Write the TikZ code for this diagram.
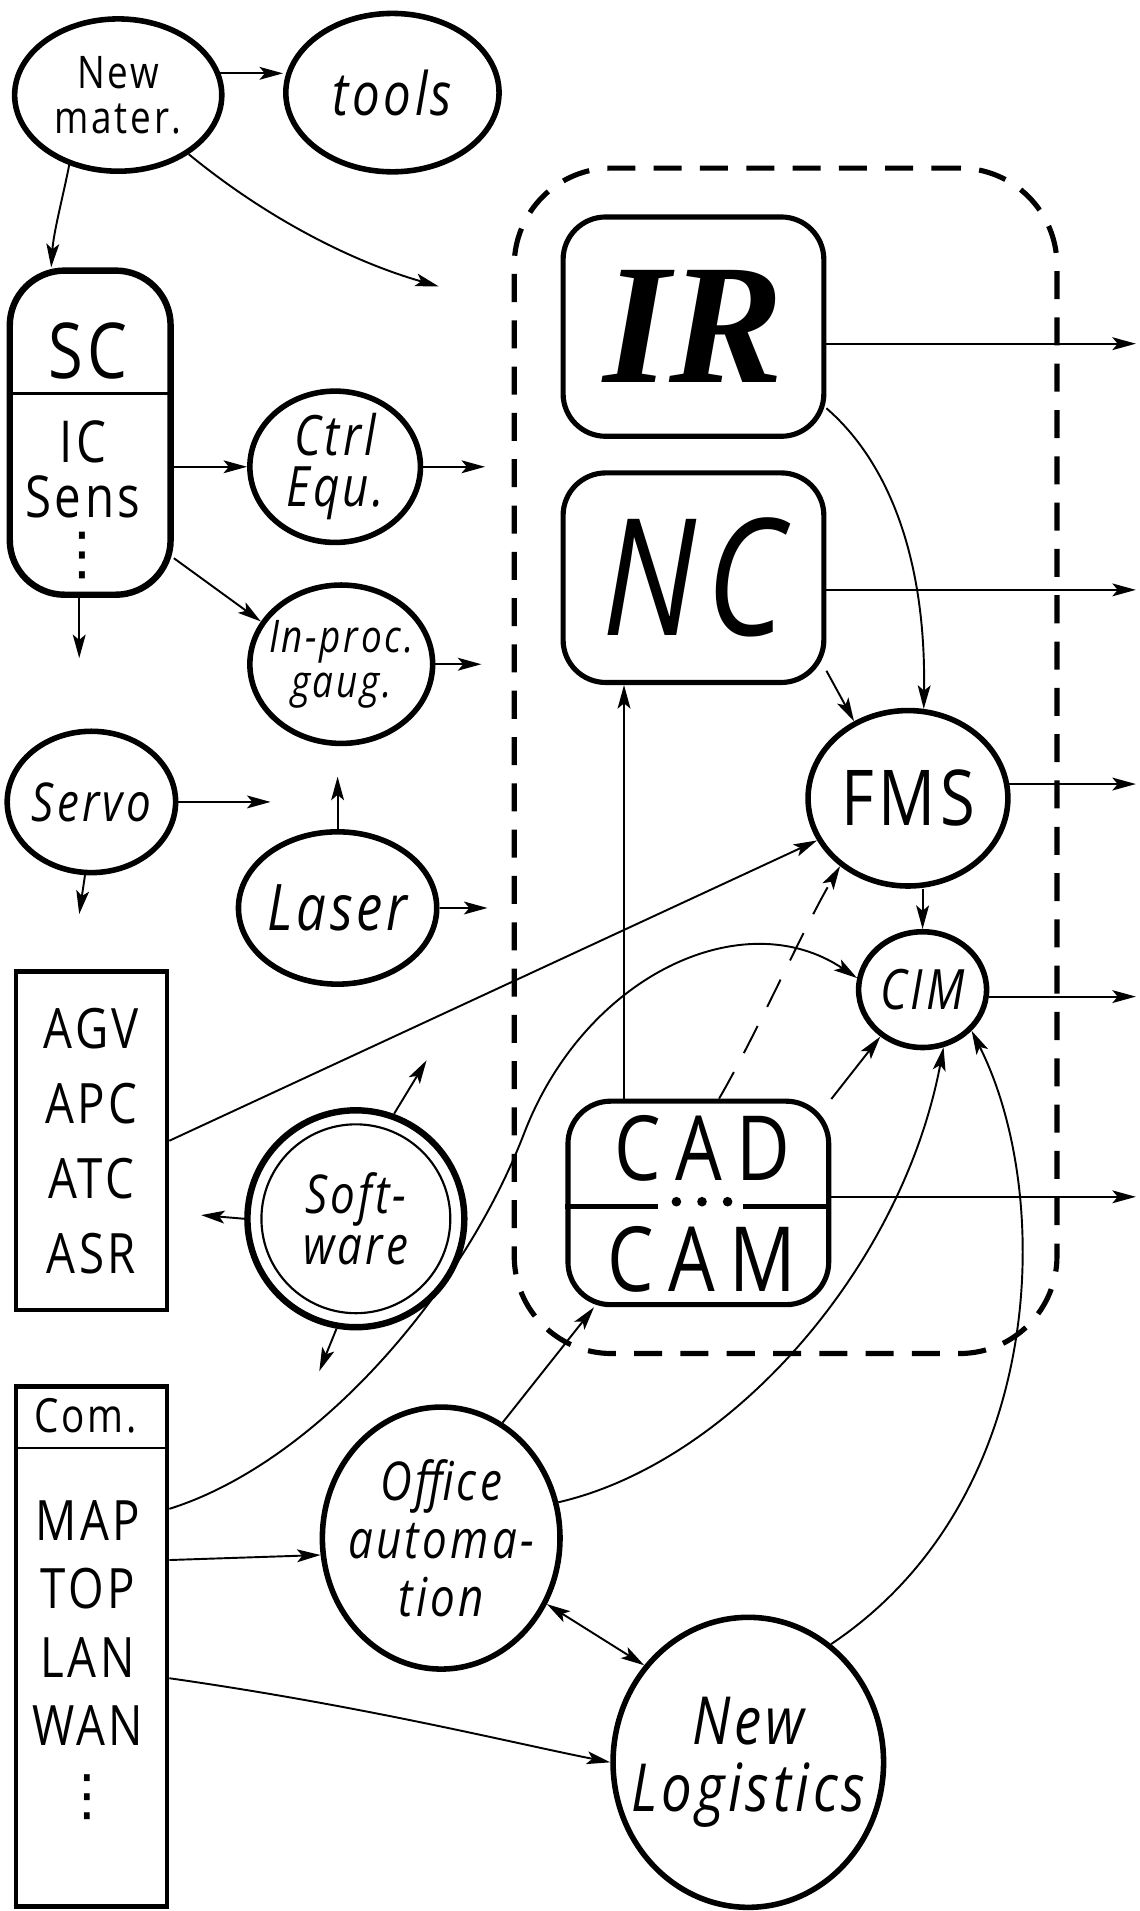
\documentclass[tikz,border=0pt]{standalone}
\usepackage{fontspec}
\setmainfont{Open Sans}[FakeStretch=0.82, LetterSpace=6]
\newfontfamily\irfont{Liberation Serif}
\newfontfamily\symfont{DejaVu Sans}
\usetikzlibrary{arrows.meta, shapes.geometric, fit}
\tikzset{
  bubble/.style={draw, ellipse, line width=2.6pt, align=center, inner sep=0pt},
  rbox/.style={draw, rectangle, rounded corners=0.7cm, line width=2.4pt, align=center, inner sep=0pt},
  lbox/.style={draw, rectangle, line width=2.2pt, align=center, inner sep=0pt},
  lbl/.style={inner sep=0pt, align=center},
  arr/.style={-{Stealth[length=11pt,width=6pt,inset=2.5pt]}, line width=0.9pt},
  dblarr/.style={{Stealth[length=11pt,width=6pt,inset=2.5pt]}-{Stealth[length=11pt,width=6pt,inset=2.5pt]}, line width=0.9pt},
  cellframe/.style={draw, dash pattern=on 0.46cm off 0.3cm, line width=2.4pt, rounded corners=1.6cm, inner sep=0.76cm},
}
\newcommand{\fsz}[2]{\fontsize{#1}{#2}\selectfont}

\begin{document}
\begin{tikzpicture}[x=0.02cm, y=-0.02cm]
\useasboundingbox (0,0) rectangle (935,1568);

% left column: materials and components
\node[bubble, minimum width=3.4cm, minimum height=2.5cm, font=\fsz{21}{21}] (newmat) at (97,78) {New\\mater.};
\node[bubble, minimum width=3.5cm, minimum height=2.6cm, font=\fsz{28}{28}\itshape] (tools) at (322,76) {tools};

\node[rbox, rounded corners=0.9cm, line width=3pt, minimum width=2.64cm, minimum height=5.32cm] (sc) at (74,355) {};
\draw[line width=1.2pt] (sc.west |- 0,323) -- (sc.east |- 0,323);
\node[lbl, font=\fsz{36}{36}] (sc-head) at (72,288) {SC};
\node[lbl, font=\fsz{27}{26}] (sc-list) at (68,410) {IC\\Sens\\{\symfont ⋮}};

\node[bubble, minimum width=2.8cm, minimum height=2.32cm, font=\fsz{26}{24}\itshape] (ctrl) at (275,383) {Ctrl\\Equ.};
\node[bubble, minimum width=3.0cm, minimum height=2.6cm, inner xsep=-4pt, font=\fsz{21}{21}\itshape] (gaug) at (280,545) {In-proc.\\gaug.};
\node[bubble, minimum width=2.72cm, minimum height=2.32cm, font=\fsz{25}{25}\itshape] (servo) at (75,658) {Servo};
\node[bubble, minimum width=3.0cm, minimum height=2.5cm, font=\fsz{30}{30}\itshape] (laser) at (277,745) {Laser};

\node[lbox, minimum width=2.48cm, minimum height=5.56cm, font=\fsz{26}{35}] (agv) at (75,936) {AGV\\APC\\ATC\\ASR};

\node[bubble, circle, line width=3pt, minimum size=3.56cm] (sw) at (292,1000) {};
\node[draw, circle, line width=1pt, minimum size=3.1cm, lbl, font=\fsz{25}{24}\itshape] (sw-in) at (sw) {Soft-\\ware};

% communication box
\node[lbox, minimum width=2.48cm, minimum height=8.54cm] (com) at (75,1351) {};
\draw[line width=1.2pt] (com.west |- 0,1188) -- (com.east |- 0,1188);
\node[lbl, font=\fsz{22}{22}] (com-head) at (70,1162) {Com.};
\node[lbl, font=\fsz{26}{32}] (com-list) at (72,1362) {MAP\\TOP\\LAN\\WAN\\{\symfont ⋮}};

% the automation cell
\node[rbox, minimum width=4.28cm, minimum height=3.6cm, font=\irfont\bfseries\itshape\fsz{80}{80}] (ir) at (569,268) {IR};
\node[rbox, minimum width=4.28cm, minimum height=3.44cm, font=\fsz{76}{76}\itshape] (nc) at (569,474) {NC};
\node[bubble, minimum width=3.28cm, minimum height=2.88cm, font=\fsz{36}{36}] (fms) at (745,655) {FMS};
\node[bubble, minimum width=2.1cm, minimum height=1.9cm, font=\fsz{26}{26}\itshape] (cim) at (757,812) {CIM};
\node[rbox, minimum width=4.28cm, minimum height=3.34cm] (cad) at (573,987) {};
\node[lbl, font=\fsz{42}{42}\addfontfeatures{LetterSpace=16}] (cad-top) at (576,942) {CAD};
\node[lbl, font=\fsz{42}{42}\addfontfeatures{LetterSpace=16}] (cad-bot) at (576,1033) {CAM};
\draw[line width=2.4pt] (cad.west |- 0,990) -- (540,990);
\draw[line width=2.4pt] (610,990) -- (cad.east |- 0,990);
\draw[line width=4.5pt, line cap=round, dash pattern=on 0pt off 0.42cm] (555,986) -- (598,986);

\node[cellframe, fit=(ir)(nc)(fms)(cim)(cad)] (cell) {};

% office and logistics
\node[bubble, minimum width=3.9cm, minimum height=4.3cm, inner xsep=-20pt, inner ysep=-10pt, font=\fsz{25}{27}\itshape] (office) at (362,1262) {Office\\automa-\\tion};
\node[bubble, minimum width=4.44cm, minimum height=4.76cm, inner xsep=-30pt, inner ysep=-10pt, font=\fsz{31}{31}\itshape] (logi) at (614,1446) {New\\Logistics};

% free arrow ends
\coordinate (rim) at (932,0);
\coordinate (nm-out) at (360,235);
\coordinate (ctrl-out) at (398,383);
\coordinate (ip-out) at (395,545);
\coordinate (sc-out) at (65,540);
\coordinate (sv-out) at (222,658);
\coordinate (sv-down) at (65,750);
\coordinate (ls-out) at (400,745);
\coordinate (sw-left) at (165,997);
\coordinate (sw-up) at (350,870);
\coordinate (sw-down) at (262,1125);

% connectors, left part
\draw[arr] (newmat.12) -- (newmat.12 -| tools.west);
\draw[arr] (newmat.235) .. controls (52,160) and (44,190) .. ([xshift=-0.64cm]sc.north);
\draw[arr] (newmat.-40) .. controls (220,180) and (290,215) .. (nm-out);
\draw[arr] (ctrl.west -| sc.east) -- (ctrl.west);
\draw[arr] (ctrl.east) -- (ctrl-out);
\draw[arr] ([yshift=-2.06cm]sc.east) -- (gaug.152);
\draw[arr] (gaug.east) -- (ip-out);
\draw[arr] (sc.south -| sc-out) -- (sc-out);
\draw[arr] (servo.east) -- (sv-out);
\draw[arr] (servo.265) -- (sv-down);
\draw[arr, shorten >=0.5cm] (laser.north) -- (laser.north |- gaug.south);
\draw[arr] (laser.east) -- (ls-out);
\draw[arr] (agv.east) -- (fms);
\draw[arr] (sw.west) -- (sw-left);
\draw[arr] (sw.70) -- (sw-up);
\draw[arr] (sw.-100) -- (sw-down);

% connectors, cell
\draw[arr] ([yshift=-0.28cm]ir.east) -- ([yshift=-0.28cm]ir.east -| rim);
\draw[arr] ([yshift=-0.2cm]nc.east) -- ([yshift=-0.2cm]nc.east -| rim);
\draw[arr] (fms.8) -- (fms.8 -| rim);
\draw[arr] (cim.-6) -- (cim.-6 -| rim);
\draw[arr] ([yshift=0.1cm]cad.east) -- ([yshift=0.1cm]cad.east -| rim);
\draw[arr] ([yshift=-1.34cm]ir.east) .. controls (730,380) and (760,460) .. (fms.80);
\draw[arr] (nc.-35) -- (fms.125);
\draw[arr] (cim.north |- fms.south) -- (cim.north);
\draw[arr] ([xshift=-1.22cm]cad.north) -- ([xshift=-1.22cm]cad.north |- nc.south);
\draw[arr, dash pattern=on 0.5cm off 0.35cm] ([xshift=0.34cm]cad.north) .. controls (620,850) and (660,760) .. (fms.225);
\draw[arr] (cad.38) -- (cim.228);

% connectors, bottom part
\draw[arr] ([yshift=2.26cm]com.east) .. controls (260,1200) and (380,1060) .. (430,930)
  .. controls (480,800) and (610,740) .. (cim.170);
\draw[arr] ([yshift=1.42cm]com.east) -- (office.188);
\draw[arr] ([yshift=-0.52cm]com.east) .. controls (300,1400) and (420,1430) .. (logi.west);
\draw[arr] (office.62) -- (cad.225);
\draw[arr] (office.17) .. controls (600,1200) and (740,1040) .. (cim.-70);
\draw[dblarr] (office.-32) -- (logi.137);
\draw[arr] (logi.55) .. controls (860,1230) and (865,980) .. (cim.-40);

\end{tikzpicture}
\end{document}
